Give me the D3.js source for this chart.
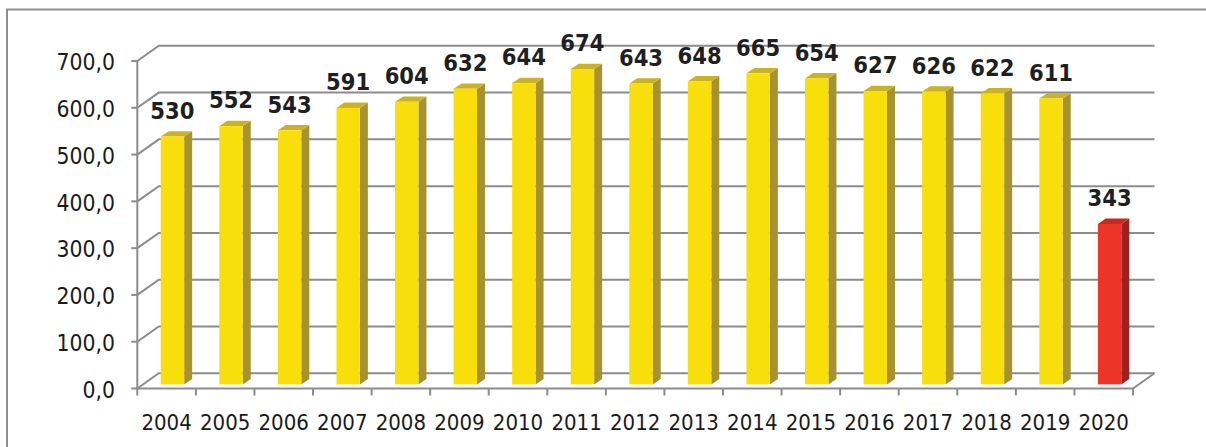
<!DOCTYPE html>
<html><head><meta charset="utf-8">
<script src="https://cdn.jsdelivr.net/npm/d3@7"></script>
<style>
html,body{margin:0;padding:0;background:#fff;}
svg{display:block;}
</style></head>
<body>
<svg id="c" width="1206" height="447"></svg>
<script>
const categories = ["2004","2005","2006","2007","2008","2009","2010","2011","2012","2013","2014","2015","2016","2017","2018","2019","2020"];
const values = [530,552,543,591,604,632,644,674,643,648,665,654,627,626,622,611,343];
const highlight = ["2020"];
const yTicks = [0,100,200,300,400,500,600,700];
const yTickLabels = ["0,0","100,0","200,0","300,0","400,0","500,0","600,0","700,0"];

const svg = d3.select("#c");
const FONT = "'DejaVu Sans Condensed','DejaVu Sans',sans-serif";
const GRID = "#8c8c8c";

const DX = 21.5, DY = -15.2;
const barDepthFrac = 0.27;

const x = d3.scaleBand().domain(categories).range([137.3, 1133]).padding(0);
const bw = x.bandwidth();
const yFront = d3.scaleLinear().domain([0, 700]).range([388.5, 61]);
const yBack = v => yFront(v) + DY;
const yBar = v => yFront(v) + DY * barDepthFrac;

svg.append("path").attr("d", "M7,449 L7,9.5 L1210,9.5")
  .attr("fill", "none").attr("stroke", "#8f8f8f").attr("stroke-width", 2);

const g = svg.append("g");
const x0 = 137.3, x1 = 1133;

yTicks.forEach(v => {
  g.append("path")
    .attr("d", `M${x0},${yFront(v)} L${x0 + DX},${yBack(v)} L${x1 + DX},${yBack(v)}`)
    .attr("fill", "none").attr("stroke", GRID).attr("stroke-width", 2);
});
g.append("path")
  .attr("d", `M${x0},${yFront(0)} L${x1},${yFront(0)} L${x1 + DX},${yBack(0)}`)
  .attr("fill", "none").attr("stroke", GRID).attr("stroke-width", 2);
g.append("line").attr("x1", x0).attr("x2", x0).attr("y1", yFront(700)).attr("y2", yFront(0))
  .attr("stroke", GRID).attr("stroke-width", 2);
yTicks.forEach((v, i) => {
  g.append("line").attr("x1", x0 - 6).attr("x2", x0).attr("y1", yFront(v)).attr("y2", yFront(v))
    .attr("stroke", GRID).attr("stroke-width", 2);
  g.append("text").attr("x", 115).attr("y", yFront(v) + 9.2)
    .attr("text-anchor", "end").attr("font-family", FONT).attr("font-size", 22.7)
    .attr("fill", "#1a1a1a").text(yTickLabels[i]);
});
for (let i = 0; i <= categories.length; i++) {
  const xx = x0 + i * bw;
  g.append("line").attr("x1", xx).attr("x2", xx).attr("y1", yFront(0)).attr("y2", yFront(0) + 7)
    .attr("stroke", GRID).attr("stroke-width", 2);
}
categories.forEach(c => {
  g.append("text").attr("x", x(c) + bw / 2).attr("y", 429.5)
    .attr("text-anchor", "middle").attr("font-family", FONT).attr("font-size", 22)
    .attr("fill", "#1a1a1a").text(c);
});

const bdx = 8, bdy = -5.3;
const bwidth = bw * 0.4;
const colors = {
  normal: {front: "#f8df0c", side: "#a8922f", top: "#c9b228"},
  hi: {front: "#ec3428", side: "#9e2121", top: "#c42a20"}
};
categories.forEach((c, i) => {
  const v = values[i];
  const col = highlight.includes(c) ? colors.hi : colors.normal;
  const xl = x(c) + bw * 0.4;
  const xr = xl + bwidth;
  const yt = yBar(v), yb = yBar(0);
  const bar = g.append("g");
  bar.append("path").attr("d", `M${xr},${yt} L${xr + bdx},${yt + bdy} L${xr + bdx},${yb + bdy} L${xr},${yb} Z`)
    .attr("fill", col.side);
  bar.append("path").attr("d", `M${xl},${yt} L${xl + bdx},${yt + bdy} L${xr + bdx},${yt + bdy} L${xr},${yt} Z`)
    .attr("fill", col.top);
  bar.append("rect").attr("x", xl).attr("y", yt).attr("width", bwidth).attr("height", yb - yt)
    .attr("fill", col.front);
  g.append("text").attr("x", xl + bwidth / 2).attr("y", yt - 17.7)
    .attr("text-anchor", "middle").attr("font-family", FONT).attr("font-weight", "bold")
    .attr("font-size", 23.5).attr("fill", "#1f1f1f").text(String(v));
});
</script>
</body></html>
